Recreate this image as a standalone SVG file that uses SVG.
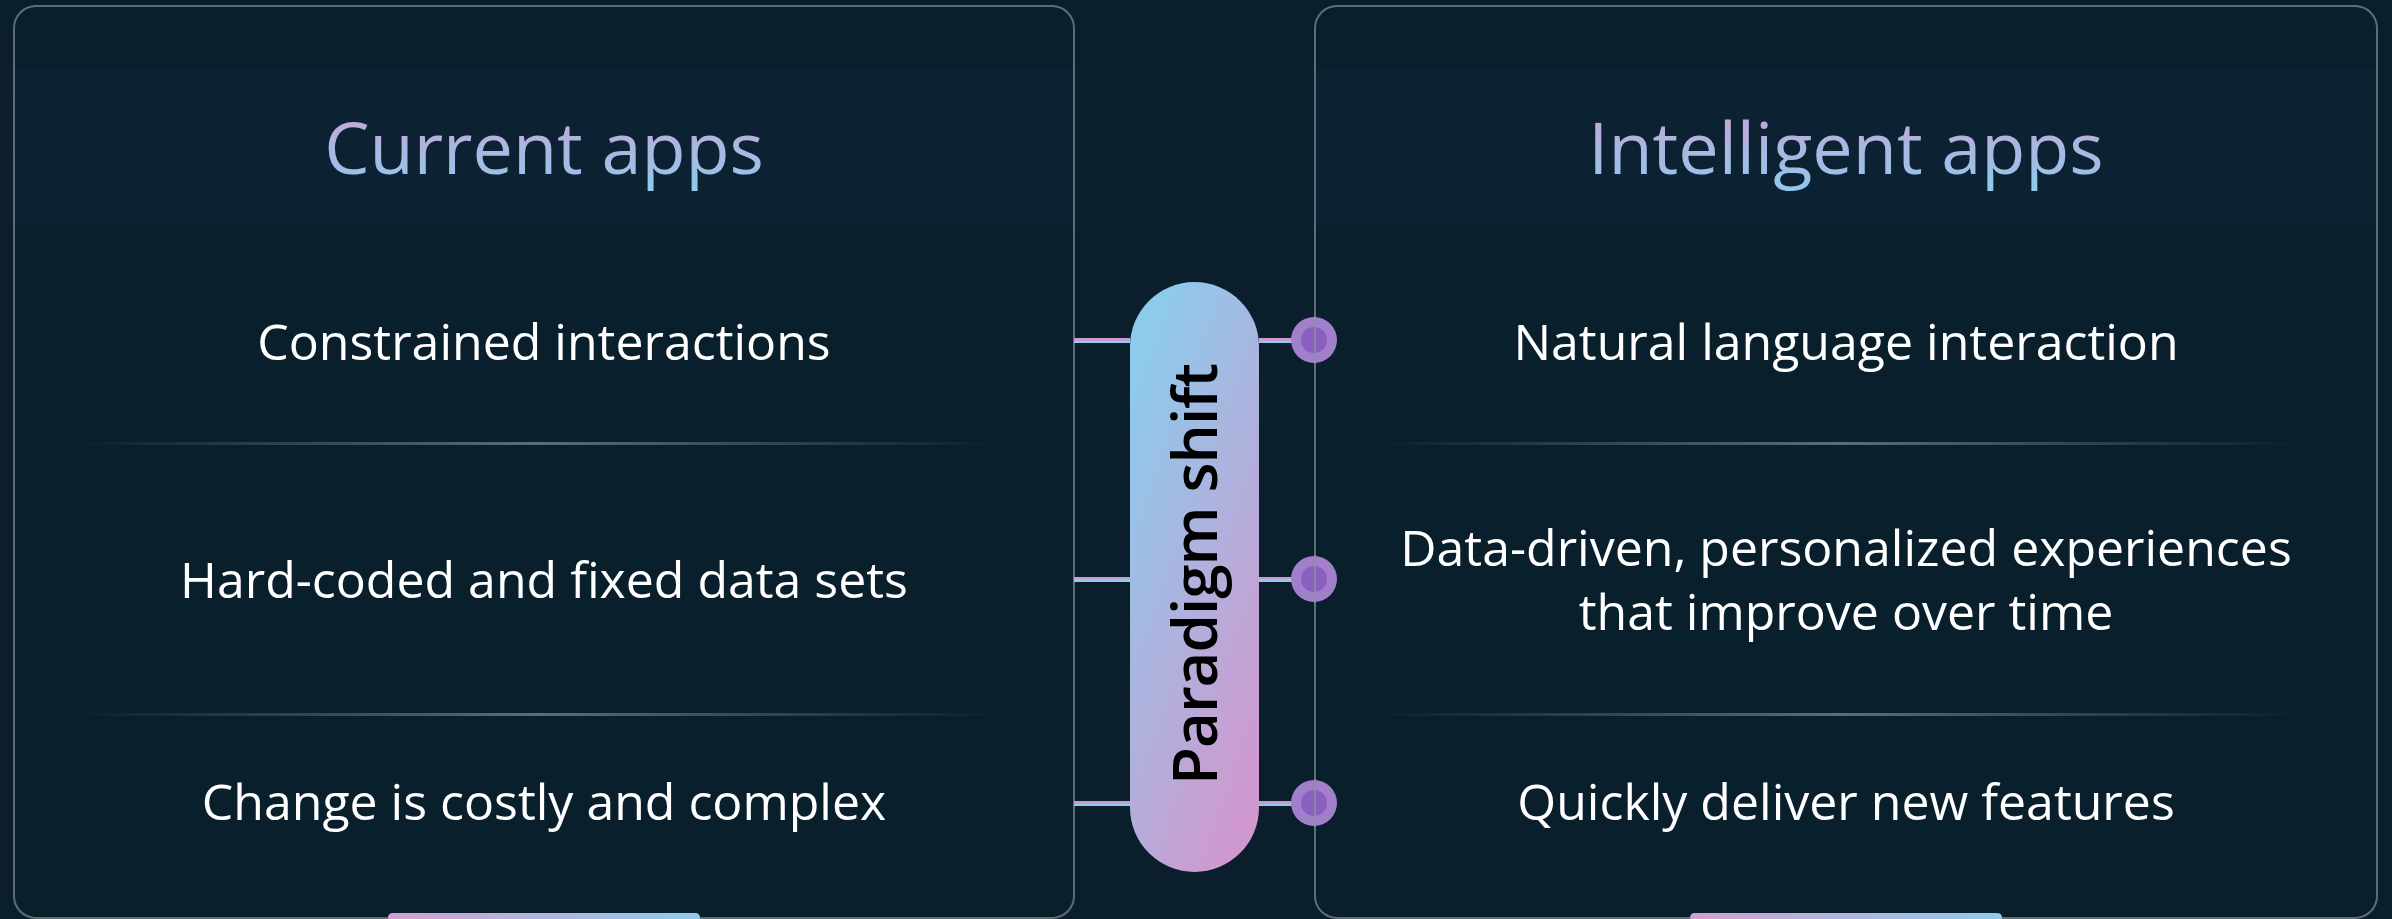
<svg xmlns="http://www.w3.org/2000/svg" width="2392" height="919" viewBox="0 0 2392 919">
<defs>
<linearGradient id="titleGrad" x1="0" y1="0" x2="0" y2="1">
<stop offset="0" stop-color="#d29ed2"/>
<stop offset="1" stop-color="#8ccbee"/>
</linearGradient>
<linearGradient id="pillGrad" gradientUnits="userSpaceOnUse" x1="1130" y1="282" x2="1433" y2="391">
<stop offset="0.12" stop-color="#8ecaeb"/>
<stop offset="0.88" stop-color="#cf99cf"/>
</linearGradient>
<linearGradient id="connGrad" x1="0" y1="0" x2="0" y2="1">
<stop offset="0" stop-color="#c89bd2"/>
<stop offset="0.5" stop-color="#c89bd2"/>
<stop offset="0.5" stop-color="#8ecbec"/>
<stop offset="1" stop-color="#8ecbec"/>
</linearGradient>
<linearGradient id="divGrad" x1="0" y1="0" x2="1" y2="0">
<stop offset="0" stop-color="#5d6d78" stop-opacity="0"/>
<stop offset="0.5" stop-color="#5d6d78" stop-opacity="1"/>
<stop offset="1" stop-color="#5d6d78" stop-opacity="0"/>
</linearGradient>
<linearGradient id="tabGrad" x1="0" y1="0" x2="1" y2="0">
<stop offset="0" stop-color="#d29ed2"/>
<stop offset="1" stop-color="#8ecbed"/>
</linearGradient>
<style>
.card{fill:#0a1f2c;stroke:#5f6d77;stroke-width:2}
.band{fill:#0c2232}
.title{font-family:"Open Sans","Noto Sans",sans-serif;font-size:72px;fill:url(#titleGrad);text-anchor:middle}
.item{font-family:"Open Sans","Noto Sans",sans-serif;font-size:50px;fill:#ffffff;text-anchor:middle}
.pilltxt{font-family:"Open Sans","Noto Sans",sans-serif;font-size:62px;font-weight:600;fill:#000000;text-anchor:middle}
.div{fill:url(#divGrad)}
.conn{fill:url(#connGrad)}
.dotO{fill:#a27fcb}
.dotI{fill:#8a5fc0}
.edge{stroke:#8a949b;stroke-width:2;opacity:0.7}
.tab{fill:url(#tabGrad)}
</style>
</defs>
<rect x="0" y="0" width="2392" height="919" fill="#0a1e2b"/>

<g id="current-apps">
<rect class="card" x="14" y="6" width="1060" height="912" rx="22"/>
<rect class="band" x="15" y="69" width="1058" height="156"/>
<text class="title" x="544" y="174">Current apps</text>
<text class="item" x="544" y="360">Constrained interactions</text>
<rect class="div" x="75" y="442" width="925" height="3"/>
<text class="item" x="544" y="598">Hard-coded and fixed data sets</text>
<rect class="div" x="75" y="713" width="925" height="3"/>
<text class="item" x="544" y="820">Change is costly and complex</text>
<path class="tab" d="M388 919 V918 Q388 913 393 913 H695 Q700 913 700 918 V919 Z"/>
</g>

<g id="intelligent-apps">
<rect class="card" x="1315" y="6" width="1062" height="912" rx="22"/>
<rect class="band" x="1316" y="69" width="1060" height="156"/>
<text class="title" x="1846" y="174">Intelligent apps</text>
<text class="item" x="1846" y="360">Natural language interaction</text>
<rect class="div" x="1376" y="442" width="925" height="3"/>
<text class="item" x="1846" y="566">Data-driven, personalized experiences</text>
<text class="item" x="1846" y="630">that improve over time</text>
<rect class="div" x="1376" y="713" width="925" height="3"/>
<text class="item" x="1846" y="820">Quickly deliver new features</text>
<path class="tab" d="M1690 919 V918 Q1690 913 1695 913 H1997 Q2002 913 2002 918 V919 Z"/>
</g>

<g id="connectors">
<rect class="conn" x="1074" y="338" width="56" height="5"/>
<rect class="conn" x="1074" y="577" width="56" height="5"/>
<rect class="conn" x="1074" y="801" width="56" height="5"/>
<rect class="conn" x="1259" y="338" width="55" height="5"/>
<rect class="conn" x="1259" y="577" width="55" height="5"/>
<rect class="conn" x="1259" y="801" width="55" height="5"/>
</g>

<g id="paradigm-shift">
<rect x="1130" y="282" width="129" height="590" rx="64.5" fill="url(#pillGrad)"/>
<text class="pilltxt" transform="translate(1217,574) rotate(-90)" x="0" y="0" textLength="422">Paradigm shift</text>
</g>

<g id="dots">
<circle class="dotO" cx="1314" cy="340" r="23"/>
<circle class="dotI" cx="1314" cy="340" r="13"/>
<circle class="dotO" cx="1314" cy="579" r="23"/>
<circle class="dotI" cx="1314" cy="579" r="13"/>
<circle class="dotO" cx="1314" cy="803" r="23"/>
<circle class="dotI" cx="1314" cy="803" r="13"/>
<line class="edge" x1="1315" y1="316" x2="1315" y2="364"/>
<line class="edge" x1="1315" y1="555" x2="1315" y2="603"/>
<line class="edge" x1="1315" y1="779" x2="1315" y2="827"/>
</g>
</svg>
